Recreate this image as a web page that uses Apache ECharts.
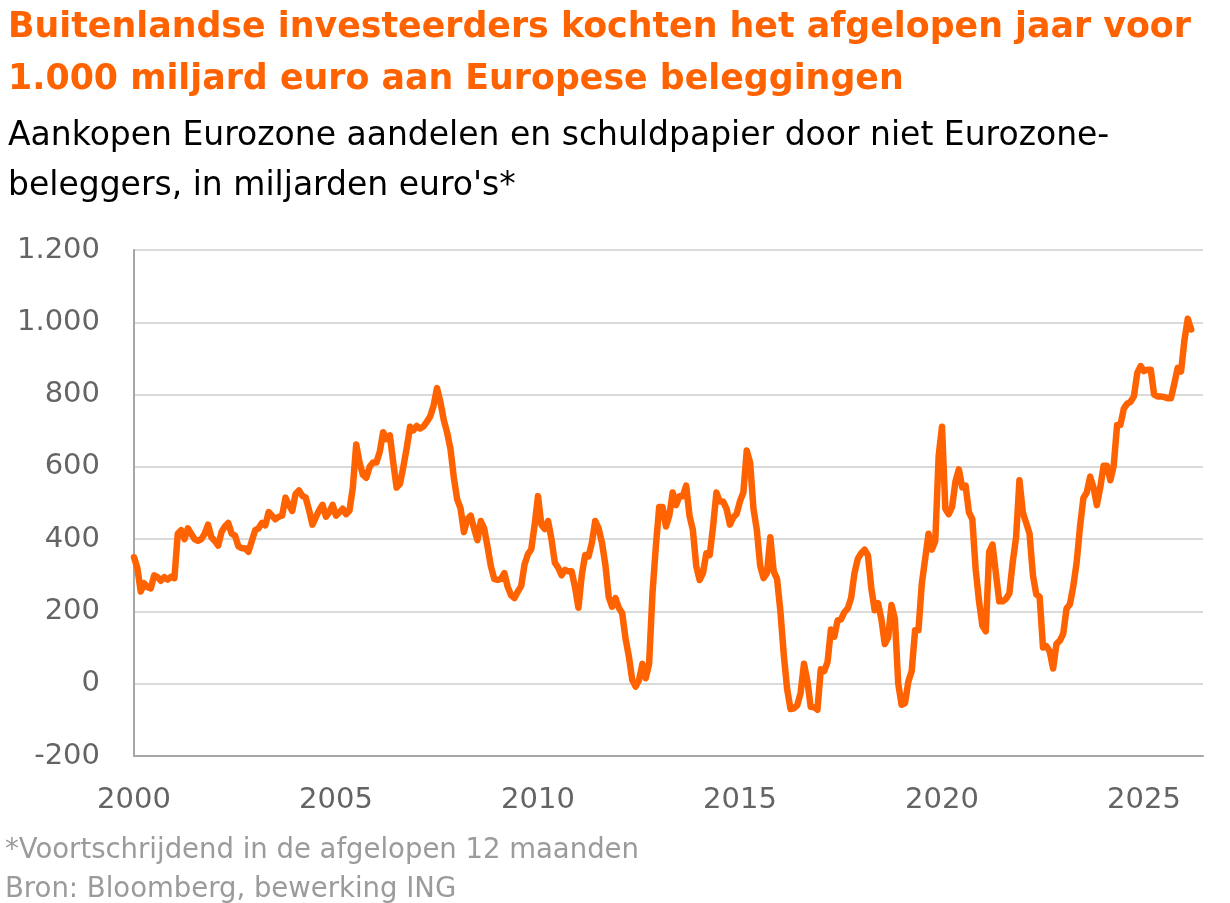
<!DOCTYPE html>
<html>
<head>
<meta charset="utf-8">
<script src="https://cdn.jsdelivr.net/npm/echarts@6/dist/echarts.min.js"></script>
<style>
  html, body { margin: 0; padding: 0; background: #fff; }
  #main { width: 1230px; height: 903px; }
</style>
</head>
<body>
<div id="main"></div>
<script>
// aankopen door niet-eurozone beleggers, 12m voortschrijdend, mld euro (maanddata)
const v2000 = [350, 320, 255, 278, 267, 264, 300, 295, 285, 295, 288, 296];
const v2001 = [292, 415, 425, 400, 430, 415, 400, 395, 400, 415, 440, 405];
const v2002 = [395, 382, 420, 435, 445, 415, 410, 380, 375, 375, 365, 395];
const v2003 = [425, 430, 445, 438, 475, 465, 455, 462, 465, 515, 495, 478];
const v2004 = [525, 535, 520, 515, 480, 440, 460, 480, 495, 462, 475, 495];
const v2005 = [465, 474, 484, 469, 479, 543, 662, 612, 578, 570, 600, 612];
const v2006 = [612, 642, 696, 677, 687, 612, 543, 553, 600, 652, 711, 701];
const v2007 = [713, 706, 712, 725, 740, 770, 818, 780, 730, 695, 650, 570];
const v2008 = [510, 485, 420, 455, 465, 430, 397, 450, 430, 380, 325, 290];
const v2009 = [287, 290, 306, 268, 245, 237, 255, 270, 330, 358, 372, 440];
const v2010 = [519, 440, 428, 450, 400, 335, 321, 300, 315, 311, 311, 267];
const v2011 = [210, 300, 356, 352, 390, 450, 430, 390, 330, 240, 213, 237];
const v2012 = [210, 195, 125, 75, 10, -8, 10, 55, 15, 55, 250, 380];
const v2013 = [489, 489, 435, 465, 529, 494, 519, 519, 548, 465, 425, 326];
const v2014 = [287, 306, 361, 356, 435, 529, 504, 504, 484, 440, 460, 470];
const v2015 = [505, 529, 645, 612, 484, 425, 326, 292, 306, 405, 311, 290];
const v2016 = [200, 80, -15, -70, -68, -60, -25, 55, 8, -64, -65, -72];
const v2017 = [40, 35, 60, 150, 130, 175, 178, 198, 208, 237, 306, 346];
const v2018 = [361, 371, 355, 265, 203, 223, 178, 110, 128, 218, 180, 0];
const v2019 = [-58, -54, 6, 35, 148, 148, 277, 346, 415, 371, 395, 630];
const v2020 = [711, 484, 469, 489, 560, 593, 543, 548, 474, 455, 316, 228];
const v2021 = [160, 145, 365, 385, 306, 228, 228, 235, 250, 336, 405, 563];
const v2022 = [474, 445, 415, 300, 247, 240, 100, 104, 89, 42, 110, 119];
const v2023 = [138, 208, 220, 270, 336, 435, 514, 529, 573, 543, 494, 543];
const v2024 = [603, 603, 563, 603, 716, 716, 761, 775, 780, 795, 860, 879];
const v2025 = [865, 869, 869, 800, 795, 795, 793, 790, 790, 830, 874, 864];
const v2026 = [950, 1010, 980];

const yearLabels = [2000, 2005, 2010, 2015, 2020, 2025];
const yTicks = [-200, 0, 200, 400, 600, 800, 1000, 1200];

const allYears = [v2000, v2001, v2002, v2003, v2004, v2005, v2006, v2007, v2008,
  v2009, v2010, v2011, v2012, v2013, v2014, v2015, v2016, v2017, v2018, v2019,
  v2020, v2021, v2022, v2023, v2024, v2025, v2026];

let points = [];
allYears.forEach(function (vals, y) {
  vals.forEach(function (v, m) {
    points.push([2000 + y + m / 12, v]);
  });
});

const ORANJE = '#FF6200';
const FONT = 'DejaVu Sans';

let chart = echarts.init(document.getElementById('main'));

let option = {
  animation: false,
  backgroundColor: '#fff',
  textStyle: { fontFamily: FONT },
  title: [
    {
      text: 'Buitenlandse investeerders kochten het afgelopen jaar voor\n1.000 miljard euro aan Europese beleggingen',
      left: 3, top: -3,
      textStyle: { color: ORANJE, fontSize: 34.8, fontWeight: 'bold', lineHeight: 52, fontFamily: FONT }
    },
    {
      text: 'Aankopen Eurozone aandelen en schuldpapier door niet Eurozone-\nbeleggers, in miljarden euro\'s*',
      left: 3, top: 106,
      textStyle: { color: '#000', fontSize: 33, fontWeight: 'normal', lineHeight: 50, fontFamily: FONT }
    },
    {
      text: '*Voortschrijdend in de afgelopen 12 maanden\nBron: Bloomberg, bewerking ING',
      left: 0, top: 826,
      textStyle: { color: '#9B9B9B', fontSize: 27.5, fontWeight: 'normal', lineHeight: 39, fontFamily: FONT }
    }
  ],
  grid: { left: 134, right: 27, top: 250, bottom: 147, containLabel: false },
  xAxis: {
    type: 'value',
    min: 2000,
    max: 2026.46,
    interval: 5,
    axisLine: { onZero: false, lineStyle: { color: '#A6A6A6', width: 2 } },
    axisTick: { show: false },
    splitLine: { show: false },
    axisLabel: {
      color: '#646464', fontSize: 29, margin: 30, fontFamily: FONT,
      showMaxLabel: false,
      formatter: function (v) { return yearLabels.indexOf(v) >= 0 ? String(v) : ''; }
    }
  },
  yAxis: {
    type: 'value',
    min: yTicks[0],
    max: yTicks[yTicks.length - 1],
    interval: 200,
    axisLine: { show: true, lineStyle: { color: '#A6A6A6', width: 2 } },
    axisTick: { show: false },
    splitLine: { lineStyle: { color: '#DADADA', width: 2 } },
    axisLabel: {
      color: '#646464', fontSize: 29, margin: 34, fontFamily: FONT,
      formatter: function (v) { return String(v).replace(/\B(?=(\d{3})+(?!\d))/g, '.'); }
    }
  },
  series: [{
    type: 'line',
    data: points,
    showSymbol: false,
    lineStyle: { color: ORANJE, width: 6.5, join: 'round', cap: 'round' },
    z: 5
  }]
};

chart.setOption(option);
</script>
</body>
</html>
